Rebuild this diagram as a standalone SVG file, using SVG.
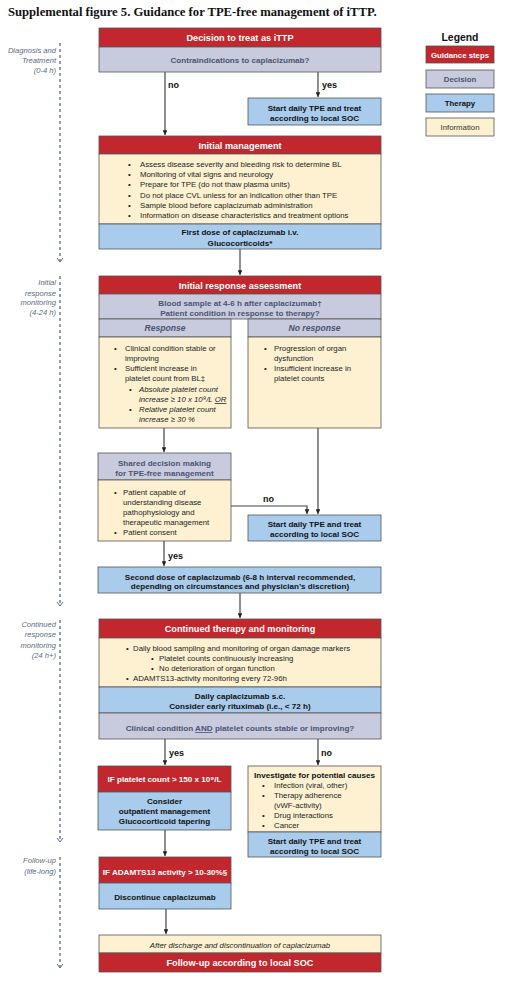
<svg xmlns="http://www.w3.org/2000/svg" width="506" height="987" viewBox="0 0 506 987">
<defs>
<style>
.red{fill:#c1272d;stroke:#555;stroke-width:0.8}
.dec{fill:#c8cadd;stroke:#555;stroke-width:0.8}
.ther{fill:#a9cbec;stroke:#555;stroke-width:0.8}
.info{fill:#fdf1d2;stroke:#555;stroke-width:0.8}
text{font-family:"Liberation Sans",Arial,sans-serif}
.h{font-size:9.2px;font-weight:bold;fill:#fff;text-anchor:middle}
.hs{font-size:8.1px;font-weight:bold;fill:#fff;text-anchor:middle}
.d{font-size:8.1px;font-weight:bold;fill:#4a5572;text-anchor:middle}
.t{font-size:8.1px;font-weight:bold;fill:#111;text-anchor:middle}
.b{font-size:7.8px;fill:#231f20}
.bi{font-size:7.8px;fill:#231f20;font-style:italic}
.lab{font-size:9px;font-weight:bold;fill:#111}
.tl{font-size:7.6px;font-style:italic;fill:#5b6b82;text-anchor:end}
.conn{stroke:#444;stroke-width:1.2;fill:none}
.tline{stroke:#5b6b82;stroke-width:1.3;stroke-dasharray:3,3;fill:none}
.chev{stroke:#5b6b82;stroke-width:1;fill:none}
</style>
<marker id="ah" viewBox="0 0 8 8" refX="8" refY="4" markerWidth="4" markerHeight="4" orient="auto"><path d="M0,0 L8,4 L0,8z" fill="#222"/></marker>
</defs>
<rect width="506" height="987" fill="#fff"/>
<text x="8" y="16" style="font-family:'Liberation Serif','Times New Roman',serif;font-size:12.65px;font-weight:bold;fill:#111">Supplemental figure 5. Guidance for TPE-free management of iTTP.</text>

<g id="timeline">
<path class="tline" d="M60,43 V261"/><path class="chev" d="M57,258 L60,262 L63,258"/>
<path class="tline" d="M60,276 V605"/><path class="chev" d="M57,602 L60,606 L63,602"/>
<path class="tline" d="M60,620 V841"/><path class="chev" d="M57,838 L60,842 L63,838"/>
<path class="tline" d="M60,857 V967"/><path class="chev" d="M57,964 L60,968 L63,964"/>
<text class="tl" x="56" y="53">Diagnosis and</text><text class="tl" x="56" y="63">Treatment</text><text class="tl" x="56" y="73">(0-4 h)</text>
<text class="tl" x="56" y="285">Initial</text><text class="tl" x="56" y="295.5">response</text><text class="tl" x="56" y="305">monitoring</text><text class="tl" x="56" y="315">(4-24 h)</text>
<text class="tl" x="56" y="627">Continued</text><text class="tl" x="56" y="637">response</text><text class="tl" x="56" y="648">monitoring</text><text class="tl" x="56" y="658">(24 h+)</text>
<text class="tl" x="56" y="863">Follow-up</text><text class="tl" x="56" y="874">(life-long)</text>
</g>

<g id="legend">
<text x="460" y="41" style="font-size:10.4px;font-weight:bold;fill:#111;text-anchor:middle">Legend</text>
<rect class="red" x="426" y="46" width="68" height="17"/><text class="hs" x="460" y="57.5" style="font-size:7.8px">Guidance steps</text>
<rect class="dec" x="426" y="70" width="68" height="18"/><text class="d" x="460" y="82" style="font-size:7.8px">Decision</text>
<rect class="ther" x="426" y="94" width="68" height="18"/><text class="t" x="460" y="106" style="font-size:7.8px">Therapy</text>
<rect class="info" x="426" y="118" width="68" height="18"/><text x="460" y="130" style="font-size:7.8px;fill:#333;text-anchor:middle">Information</text>
</g>

<g id="connectors">
<path class="conn" d="M165,72 V135" marker-end="url(#ah)"/>
<path class="conn" d="M318,72 V97" marker-end="url(#ah)"/>
<path class="conn" d="M240,249 V275" marker-end="url(#ah)"/>
<path class="conn" d="M164,428 V452" marker-end="url(#ah)"/>
<path class="conn" d="M318,428 V514" marker-end="url(#ah)"/>
<path class="conn" d="M231,506 H307 V514" marker-end="url(#ah)"/>
<path class="conn" d="M164,541 V566" marker-end="url(#ah)"/>
<path class="conn" d="M240,593 V618" marker-end="url(#ah)"/>
<path class="conn" d="M165,739 V765" marker-end="url(#ah)"/>
<path class="conn" d="M318,739 V765" marker-end="url(#ah)"/>
<path class="conn" d="M165,830 V856" marker-end="url(#ah)"/>
<path class="conn" d="M166,909 V934" marker-end="url(#ah)"/>
<text class="lab" x="168" y="88">no</text>
<text class="lab" x="322" y="88">yes</text>
<text class="lab" x="263" y="502">no</text>
<text class="lab" x="168" y="559">yes</text>
<text class="lab" x="169" y="756">yes</text>
<text class="lab" x="321" y="756">no</text>
</g>

<g id="decision-to-treat">
<rect class="red" x="99" y="28" width="282" height="19"/><text class="h" x="240" y="41">Decision to treat as iTTP</text>
<rect class="dec" x="99" y="47" width="282" height="25"/><text class="d" x="240" y="62.5">Contraindications to caplacizumab?</text>
</g>

<g id="tpe-1">
<rect class="ther" x="248" y="98" width="133" height="27"/>
<text class="t" x="314.5" y="110.5">Start daily TPE and treat</text><text class="t" x="314.5" y="120.5">according to local SOC</text>
</g>

<g id="initial-management">
<rect class="red" x="99" y="136" width="282" height="18"/><text class="h" x="240" y="148.5">Initial management</text>
<rect class="info" x="99" y="154" width="282" height="70"/>
<g class="b">
<text x="128" y="167">•</text><text x="140" y="167">Assess disease severity and bleeding risk to determine BL</text>
<text x="128" y="177.2">•</text><text x="140" y="177.2">Monitoring of vital signs and neurology</text>
<text x="128" y="187.4">•</text><text x="140" y="187.4">Prepare for TPE (do not thaw plasma units)</text>
<text x="128" y="197.6">•</text><text x="140" y="197.6">Do not place CVL unless for an indication other than TPE</text>
<text x="128" y="208">•</text><text x="140" y="208">Sample blood before caplacizumab administration</text>
<text x="128" y="218">•</text><text x="140" y="218">Information on disease characteristics and treatment options</text>
</g>
<rect class="ther" x="99" y="224" width="282" height="25"/>
<text class="t" x="240" y="235">First dose of caplacizumab i.v.</text><text class="t" x="240" y="245.5">Glucocorticoids*</text>
</g>

<g id="initial-response">
<rect class="red" x="99" y="276" width="282" height="18"/><text class="h" x="240" y="288.5">Initial response assessment</text>
<rect class="dec" x="99" y="294" width="282" height="25"/>
<text class="d" x="240" y="306">Blood sample at 4-6 h after caplacizumab†</text><text class="d" x="240" y="315.5">Patient condition in response to therapy?</text>
</g>

<g id="response">
<rect class="dec" x="99" y="319" width="132" height="18"/><text class="d" x="165" y="331" style="font-style:italic;font-size:8.6px">Response</text>
<rect class="info" x="99" y="337" width="132" height="91"/>
<g class="b">
<text x="114" y="351">•</text><text x="125" y="351">Clinical condition stable or</text>
<text x="125" y="360.5">improving</text>
<text x="114" y="371">•</text><text x="125" y="371">Sufficient increase in</text>
<text x="125" y="381">platelet count from BL‡</text>
<text x="129" y="392">•</text><text class="bi" x="139" y="392">Absolute platelet count</text>
<text class="bi" x="139" y="402">increase  ≥ 10 x 10⁹/L <tspan text-decoration="underline">OR</tspan></text>
<text x="129" y="412">•</text><text class="bi" x="139" y="412">Relative platelet count</text>
<text class="bi" x="139" y="422">increase ≥ 30 %</text>
</g>
</g>

<g id="no-response">
<rect class="dec" x="248" y="319" width="133" height="18"/><text class="d" x="314.5" y="331" style="font-style:italic;font-size:8.6px">No response</text>
<rect class="info" x="248" y="337" width="133" height="91"/>
<g class="b">
<text x="264" y="351">•</text><text x="274" y="351">Progression of organ</text>
<text x="274" y="360.5">dysfunction</text>
<text x="264" y="371">•</text><text x="274" y="371">Insufficient increase in</text>
<text x="274" y="381">platelet counts</text>
</g>
</g>

<g id="shared-decision">
<rect class="dec" x="98" y="453" width="133" height="27"/>
<text class="d" x="164.5" y="466">Shared decision making</text><text class="d" x="164.5" y="476">for TPE-free management</text>
<rect class="info" x="98" y="480" width="133" height="61"/>
<g class="b">
<text x="114" y="495">•</text><text x="123" y="495">Patient capable of</text>
<text x="123" y="505">understanding disease</text>
<text x="123" y="515">pathophysiology and</text>
<text x="123" y="525">therapeutic management</text>
<text x="114" y="535">•</text><text x="123" y="535">Patient consent</text>
</g>
</g>

<g id="tpe-2">
<rect class="ther" x="248" y="515" width="133" height="26"/>
<text class="t" x="314.5" y="527">Start daily TPE and treat</text><text class="t" x="314.5" y="537">according to local SOC</text>
</g>

<g id="second-dose">
<rect class="ther" x="98" y="567" width="283" height="26"/>
<text class="t" x="240" y="579.5">Second dose of caplacizumab (6-8 h interval recommended,</text>
<text class="t" x="240" y="589">depending on circumstances and physician’s discretion)</text>
</g>

<g id="continued-therapy">
<rect class="red" x="99" y="619" width="282" height="19"/><text class="h" x="240" y="632">Continued therapy and monitoring</text>
<rect class="info" x="99" y="638" width="282" height="49"/>
<g class="b">
<text x="126" y="651">•</text><text x="133" y="651">Daily blood sampling and monitoring of organ damage markers</text>
<text x="151" y="661">•</text><text x="159" y="661">Platelet counts continuously increasing</text>
<text x="151" y="671">•</text><text x="159" y="671">No deterioration of organ function</text>
<text x="126" y="681">•</text><text x="133" y="681">ADAMTS13-activity monitoring every 72-96h</text>
</g>
<rect class="ther" x="99" y="687" width="282" height="26"/>
<text class="t" x="240" y="699">Daily caplacizumab s.c.</text><text class="t" x="240" y="709">Consider early rituximab (i.e., &lt; 72 h)</text>
<rect class="dec" x="99" y="713" width="282" height="26"/>
<text class="d" x="240" y="731">Clinical condition <tspan text-decoration="underline">AND</tspan> platelet counts stable or improving?</text>
</g>

<g id="platelet-150">
<rect class="red" x="98" y="766" width="133" height="26"/><text class="hs" x="164.5" y="782">IF platelet count &gt; 150 x 10⁹/L</text>
<rect class="ther" x="98" y="792" width="133" height="38"/>
<text class="t" x="164.5" y="804">Consider</text><text class="t" x="164.5" y="814">outpatient management</text><text class="t" x="164.5" y="824">Glucocorticoid tapering</text>
</g>

<g id="investigate">
<rect class="info" x="248" y="766" width="133" height="66"/>
<text class="t" x="314.5" y="778">Investigate for potential causes</text>
<g class="b">
<text x="262" y="787.5">•</text><text x="274" y="787.5">Infection (viral, other)</text>
<text x="262" y="797.5">•</text><text x="274" y="797.5">Therapy adherence</text>
<text x="274" y="807.5">(vWF-activity)</text>
<text x="262" y="817.5">•</text><text x="274" y="817.5">Drug interactions</text>
<text x="262" y="827.5">•</text><text x="274" y="827.5">Cancer</text>
</g>
<rect class="ther" x="248" y="832" width="133" height="25"/>
<text class="t" x="314.5" y="844">Start daily TPE and treat</text><text class="t" x="314.5" y="854">according to local SOC</text>
</g>

<g id="adamts13">
<rect class="red" x="99" y="857" width="132" height="26"/><text class="hs" x="165" y="875">IF ADAMTS13 activity &gt; 10-30%§</text>
<rect class="ther" x="99" y="883" width="132" height="26"/><text class="t" x="165" y="900">Discontinue caplacizumab</text>
</g>

<g id="follow-up">
<rect class="info" x="99" y="935" width="282" height="18"/><text class="bi" x="240" y="948" style="text-anchor:middle">After discharge  and discontinuation of caplacizumab</text>
<rect class="red" x="99" y="953" width="282" height="19"/><text class="h" x="240" y="966">Follow-up according to local SOC</text>
</g>
</svg>
